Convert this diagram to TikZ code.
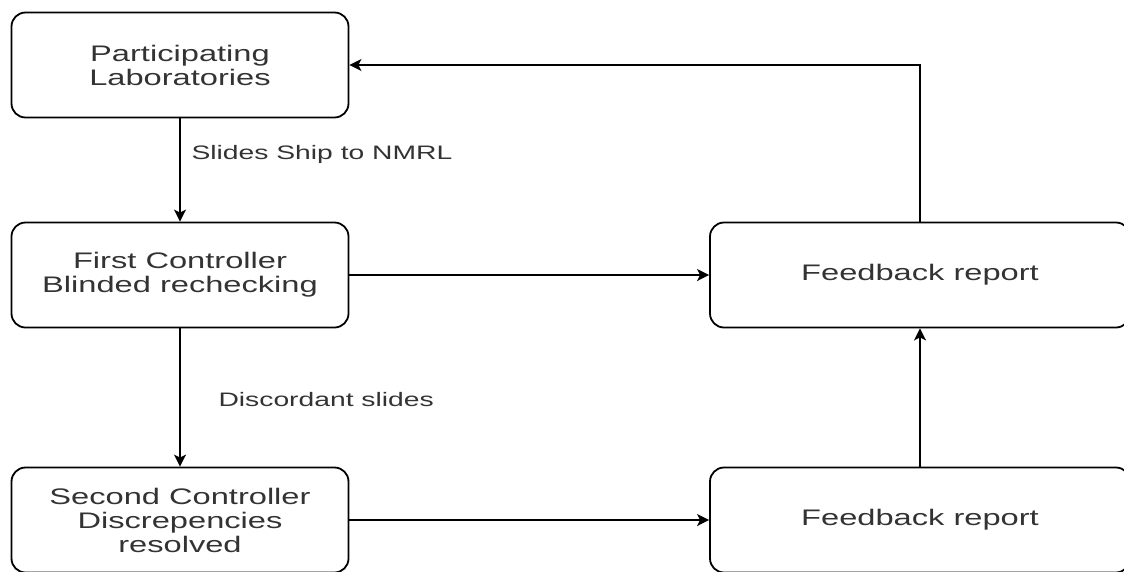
\documentclass[tikz,border=0pt]{standalone}
\usepackage{fontspec}
\setmainfont{Liberation Sans}[FakeStretch=1.45]
\usetikzlibrary{arrows.meta}
\definecolor{txtgray}{HTML}{333333}

\begin{document}
\begin{tikzpicture}[x=1pt,y=-1pt,
		box/.style={draw,line width=1.8pt,rounded corners=14pt,minimum height=105pt,
			align=center,text=txtgray,font=\fontsize{22.5}{24}\selectfont},
		flow/.style={line width=2pt,-{Stealth[length=12pt,width=12pt,inset=3pt]}},
		note/.style={anchor=west,text=txtgray,font=\fontsize{19.5}{22}\selectfont}]
		\useasboundingbox (0,0) rectangle (1124,571);
		\edef\colL{\fpeval{180}} % 左列
		\edef\colR{\fpeval{920}} % 右列
		\edef\boxWL{\fpeval{337}} % 左框宽
		\edef\boxWR{\fpeval{420}} % 右框宽
		\node[box,minimum width=\boxWL pt] (lab) at (\colL,65) {Participating\\Laboratories};
		\node[box,minimum width=\boxWL pt] (first) at (\colL,275) {First Controller\\Blinded rechecking};
		\node[box,minimum width=\boxWL pt] (second) at (\colL,520) {Second Controller\\Discrepencies\\resolved};
		\node[box,minimum width=\boxWR pt] (fbtop) at (\colR,275) {Feedback report};
		\node[box,minimum width=\boxWR pt] (fbbot) at (\colR,520) {Feedback report};
		\node[note] (ship) at (188,154) {Slides Ship to NMRL};
		\node[note] (disc) at (215,400) {Discordant slides};
		\draw[flow] (lab) -- (first);
		\draw[flow] (first) -- (second);
		\draw[flow] (first) -- (fbtop);
		\draw[flow] (second) -- (fbbot);
		\draw[flow] (fbbot) -- (fbtop);
		\draw[flow] (fbtop.north) |- (lab.east);
	\end{tikzpicture}
\end{document}
